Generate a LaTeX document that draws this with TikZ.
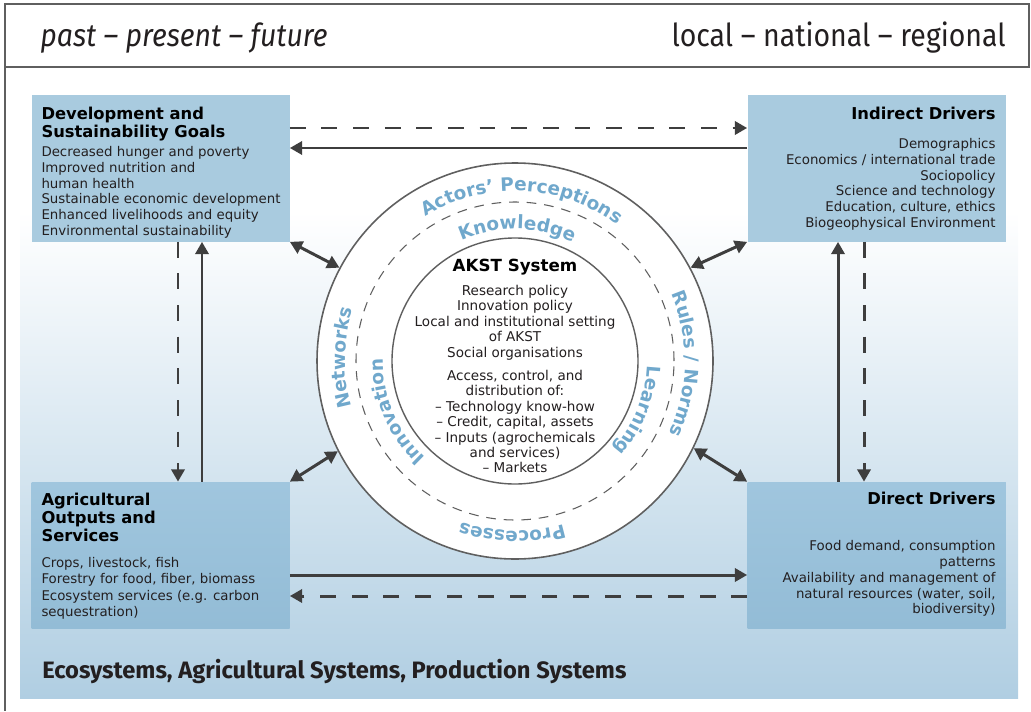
\documentclass[tikz,border=0pt]{standalone}
\usepackage{fontspec}
\setmainfont{DejaVu Sans}
\newfontfamily\headfont{Fira Sans}[FakeStretch=0.9]
\newfontfamily\footfont{Fira Sans}
\usetikzlibrary{arrows.meta,decorations.text}

\definecolor{boxblue}{RGB}{169,203,223}
\definecolor{boxbluetop}{RGB}{160,198,222}
\definecolor{boxbluebot}{RGB}{147,188,214}
\definecolor{bandblue}{RGB}{176,206,226}
\definecolor{ringblue}{RGB}{112,168,204}
\definecolor{arrowgray}{RGB}{62,62,62}
\definecolor{framegray}{RGB}{95,95,95}
\definecolor{textdark}{RGB}{35,31,32}

\newcommand{\boxhead}[1]{{\fontsize{9.3}{10}\selectfont\bfseries\color{black}#1}}
\newcommand{\ringfont}{\fontsize{10.5}{12}\selectfont\bfseries}

\tikzset{
  headtext/.style={font=\headfont\fontsize{18}{20}\selectfont, text=textdark, inner sep=0},
  goalbox/.style={rectangle, fill=boxblue, minimum width=5.16cm, minimum height=2.92cm, inner sep=0},
  outbox/.style={top color=boxbluetop, bottom color=boxbluebot},
  boxtext/.style={inner sep=0, align=left, text=textdark, font=\fontsize{7.6}{9}\selectfont},
  drivetext/.style={boxtext, align=right},
  flow/.style={arrowgray, line width=1.7pt, -{Triangle[length=7pt,width=7.5pt]}},
  plan/.style={flow, dash pattern=on 9pt off 9pt},
  both/.style={flow, {Triangle[length=7pt,width=7.5pt]}-{Triangle[length=7pt,width=7.5pt]}},
  ringlabel/.style={decorate, decoration={text along path, text={|\ringfont|#1},
    text align=center, text color=ringblue}}
}

\begin{document}
\begin{tikzpicture}

    % 0. 画布大小
    \useasboundingbox (0,0) rectangle (20.62,14.22);

    % 1. 背景渐变与标题栏
    \fill[white] (0.40,10.00) rectangle (20.36,12.88);
    \fill[top color=white, bottom color=bandblue] (0.40,0.26) rectangle (20.36,10.00);
    \draw[framegray, line width=0.8pt] (0.10,12.88) rectangle (20.58,14.14);
    \draw[framegray, line width=0.8pt] (0.10,12.88) -- (0.10,0);

    \node[headtext, anchor=base west] (timeline) at (0.80,13.28) {\itshape past – present – future};
    \node[headtext, anchor=base east] (scales) at (20.12,13.28) {local – national – regional};
    \node[anchor=base west, inner sep=0, text=textdark,
          font=\footfont\fontsize{13.5}{15}\selectfont\bfseries] (systems) at (0.84,0.66)
          {Ecosystems, Agricultural Systems, Production Systems};

    % 2. 四个方框
    \node[goalbox] (goals) at (3.21,10.85) {};
    \node[goalbox] (indirect) at (17.53,10.85) {};
    \node[goalbox, outbox] (outputs) at (3.21,3.12) {};
    \node[goalbox, outbox] (direct) at (17.53,3.12) {};

    \node[boxtext, anchor=north west] (goalsText) at ([xshift=2mm,yshift=-2.4mm]goals.north west) {%
      \boxhead{Development and}\\[0pt]
      \boxhead{Sustainability Goals}\\[1.8pt]
      Decreased hunger and poverty\\
      Improved nutrition and\\
      human health\\
      Sustainable economic development\\
      Enhanced livelihoods and equity\\
      Environmental sustainability};

    \node[drivetext, anchor=north east] (indirectText) at ([xshift=-2mm,yshift=-2.3mm]indirect.north east) {%
      \boxhead{Indirect Drivers}\\[7.5pt]
      Demographics\\
      Economics / international trade\\
      Sociopolicy\\
      Science and technology\\
      Education, culture, ethics\\
      Biogeophysical Environment};

    \node[boxtext, anchor=north west] (outputsText) at ([xshift=2mm,yshift=-2.3mm]outputs.north west) {%
      \boxhead{Agricultural}\\[0pt]
      \boxhead{Outputs and}\\[0pt]
      \boxhead{Services}\\[6pt]
      Crops, livestock, fish\\[0.3pt]
      Forestry for food, fiber, biomass\\[0.3pt]
      Ecosystem services (e.g. carbon\\[0.3pt]
      sequestration)};

    \node[drivetext, anchor=north east] (directText) at ([xshift=-2mm,yshift=-2.1mm]direct.north east) {%
      \boxhead{Direct Drivers}\\[17pt]
      Food demand, consumption\\
      patterns\\
      Availability and management of\\
      natural resources (water, soil,\\
      biodiversity)};

    % 3. 中间的圆环
    \node[circle, draw=framegray, fill=white, line width=0.9pt, minimum size=7.92cm, inner sep=0] (ring) at (10.30,7.00) {};
    \draw[framegray, line width=0.6pt, dash pattern=on 5.5pt off 4.5pt] (ring.center) circle[radius=3.18];
    \node[circle, draw=framegray, fill=white, line width=0.8pt, minimum size=4.92cm, inner sep=0] (akst) at (ring.center) {};
    \node[align=center, text=textdark, font=\fontsize{7.7}{8.8}\selectfont] (akstText) at (10.30,6.90) {%
      {\fontsize{9.5}{10}\selectfont\bfseries\color{black}AKST System}\\[4.9pt]
      Research policy\\
      Innovation policy\\
      Local and institutional setting\\
      of AKST\\
      Social organisations\\[4.3pt]
      Access, control, and\\
      distribution of:\\
      – Technology know-how\\
      – Credit, capital, assets\\
      – Inputs (agrochemicals\\
      and services)\\
      – Markets};

    % 4. 沿圆环的文字 (顺时针)
    \begin{scope}[shift={(10.30,7.00)}]
      \path[ringlabel={Actors' Perceptions}] (157.5:3.40) arc[start angle=157.5, end angle=17.5, radius=3.40];
      \path[ringlabel={Rules / Norms}] (69:3.40) arc[start angle=69, end angle=-71, radius=3.40];
      \path[ringlabel={Processes}] (-21:3.40) arc[start angle=-21, end angle=-161, radius=3.40];
      \path[ringlabel={Networks}] (249:3.40) arc[start angle=249, end angle=109, radius=3.40];
      \path[ringlabel={Knowledge}] (159:2.64) arc[start angle=159, end angle=19, radius=2.64];
      \path[ringlabel={Learning}] (48:2.64) arc[start angle=48, end angle=-92, radius=2.64];
      \path[ringlabel={Innovation}] (273:2.64) arc[start angle=273, end angle=133, radius=2.64];
    \end{scope}

    % 5. 方框之间的箭头
    \draw[plan] ([yshift=8.1mm]goals.east) -- ([yshift=8.1mm]indirect.west);
    \draw[flow] ([yshift=4.1mm]indirect.west) -- ([yshift=4.1mm]goals.east);
    \draw[plan] ([xshift=3.5mm]goals.south) -- ([xshift=3.5mm]outputs.north);
    \draw[flow] ([xshift=8.3mm]outputs.north) -- ([xshift=8.3mm]goals.south);
    \draw[flow] ([xshift=-7.7mm]direct.north) -- ([xshift=-7.7mm]indirect.south);
    \draw[plan] ([xshift=-2.5mm]indirect.south) -- ([xshift=-2.5mm]direct.north);
    \draw[flow] ([yshift=-4mm]outputs.east) -- ([yshift=-4mm]direct.west);
    \draw[plan] ([yshift=-8.2mm]direct.west) -- ([yshift=-8.2mm]outputs.east);

    % 6. 方框与圆环之间的双向箭头
    \draw[both] (goals.south east) -- (ring.152);
    \draw[both] (indirect.south west) -- (ring.28);
    \draw[both] (outputs.north east) -- (ring.207);
    \draw[both] (direct.north west) -- (ring.-26);

\end{tikzpicture}
\end{document}
